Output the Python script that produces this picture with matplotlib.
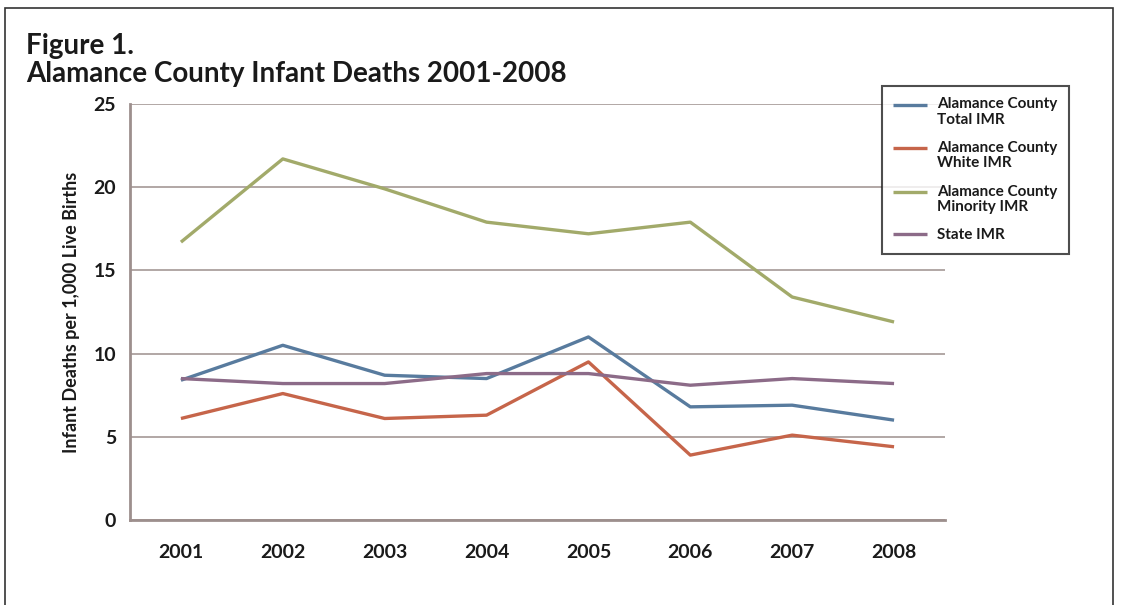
import matplotlib.pyplot as plt
from matplotlib.patches import Rectangle
from matplotlib.legend_handler import HandlerLine2D

plt.rcParams['font.family'] = ['Lato', 'DejaVu Sans']

years = ['2001', '2002', '2003', '2004', '2005', '2006', '2007', '2008']
total_imr = [8.4, 10.5, 8.7, 8.5, 11.0, 6.8, 6.9, 6.0]
white_imr = [6.1, 7.6, 6.1, 6.3, 9.5, 3.9, 5.1, 4.4]
minority_imr = [16.7, 21.7, 19.9, 17.9, 17.2, 17.9, 13.4, 11.9]
state_imr = [8.5, 8.2, 8.2, 8.8, 8.8, 8.1, 8.5, 8.2]

labels = ['Alamance County\nTotal IMR', 'Alamance County\nWhite IMR',
          'Alamance County\nMinority IMR', 'State IMR']
colors = ['#587b9e', '#c6654a', '#a2aa6a', '#8c6b88']
grid_c = '#9d8f8d'


class FirstLineHandler(HandlerLine2D):
    # put the legend line next to the first text line
    def __init__(self, shift, **kw):
        super().__init__(**kw)
        self.shift = shift

    def create_artists(self, legend, orig_handle, xdescent, ydescent,
                       width, height, fontsize, trans):
        arts = super().create_artists(legend, orig_handle, xdescent, ydescent,
                                      width, height, fontsize, trans)
        for a in arts:
            a.set_ydata([y + self.shift for y in a.get_ydata()])
        return arts


fig = plt.figure(figsize=(11.23, 6.05), dpi=100)
ax = fig.add_axes([130 / 1123, 1 - 520 / 605, 815 / 1123, 416 / 605])

x = range(len(years))
lines = []
for vals, lab, c in zip([total_imr, white_imr, minority_imr, state_imr], labels, colors):
    ln, = ax.plot(x, vals, color=c, lw=2.4, label=lab, solid_capstyle='butt')
    lines.append(ln)

ax.set_xlim(-0.5, 7.5)
ax.set_ylim(0, 25)
ax.set_yticks([0, 5, 10, 15, 20, 25])
ax.set_xticks(list(x))
ax.set_xticklabels(years)
ax.tick_params(length=0, labelsize=14, colors='#1a1a1a', pad=10)
ax.tick_params(axis='x', pad=17)
for t in ax.get_xticklabels() + ax.get_yticklabels():
    t.set_fontweight('bold')
ax.yaxis.grid(True, color=grid_c, lw=1.1)
ax.set_axisbelow(True)
for s in ['top', 'right']:
    ax.spines[s].set_visible(False)
for s in ['left', 'bottom']:
    ax.spines[s].set_color(grid_c)
    ax.spines[s].set_linewidth(2)
ax.set_ylabel('Infant Deaths per 1,000 Live Births', fontsize=13,
              fontweight='bold', color='#1a1a1a', labelpad=10)

hmap = {ln: FirstLineHandler(5.5 if '\n' in ln.get_label() else 0.0) for ln in lines}
leg = ax.legend(handles=lines, handler_map=hmap, loc='upper left',
                bbox_to_anchor=(882 / 1123, 1 - 86 / 605),
                bbox_transform=fig.transFigure, frameon=True, fancybox=False,
                fontsize=11, handlelength=2.2, labelspacing=0.95,
                borderpad=0.75, handletextpad=0.65, borderaxespad=0)
leg.get_frame().set_edgecolor('#222222')
leg.get_frame().set_linewidth(1.5)
for t in leg.get_texts():
    t.set_fontweight('bold')
    t.set_color('#1a1a1a')
    t.set_multialignment('left')
    t.set_linespacing(1.1)

fig.text(26 / 1123, 1 - 46 / 605, 'Figure 1.', fontsize=20, fontweight='bold',
         va='center', ha='left', color='#1a1a1a')
fig.text(26 / 1123, 1 - 74 / 605, 'Alamance County Infant Deaths 2001-2008',
         fontsize=20, fontweight='bold', va='center', ha='left', color='#1a1a1a')

fig.patches.append(Rectangle((5 / 1123, -0.1), 1108 / 1123, 1.1 - 8 / 605,
                             transform=fig.transFigure, fill=False,
                             edgecolor='#333333', lw=1.2))

fig.savefig('out.png', dpi=100)
